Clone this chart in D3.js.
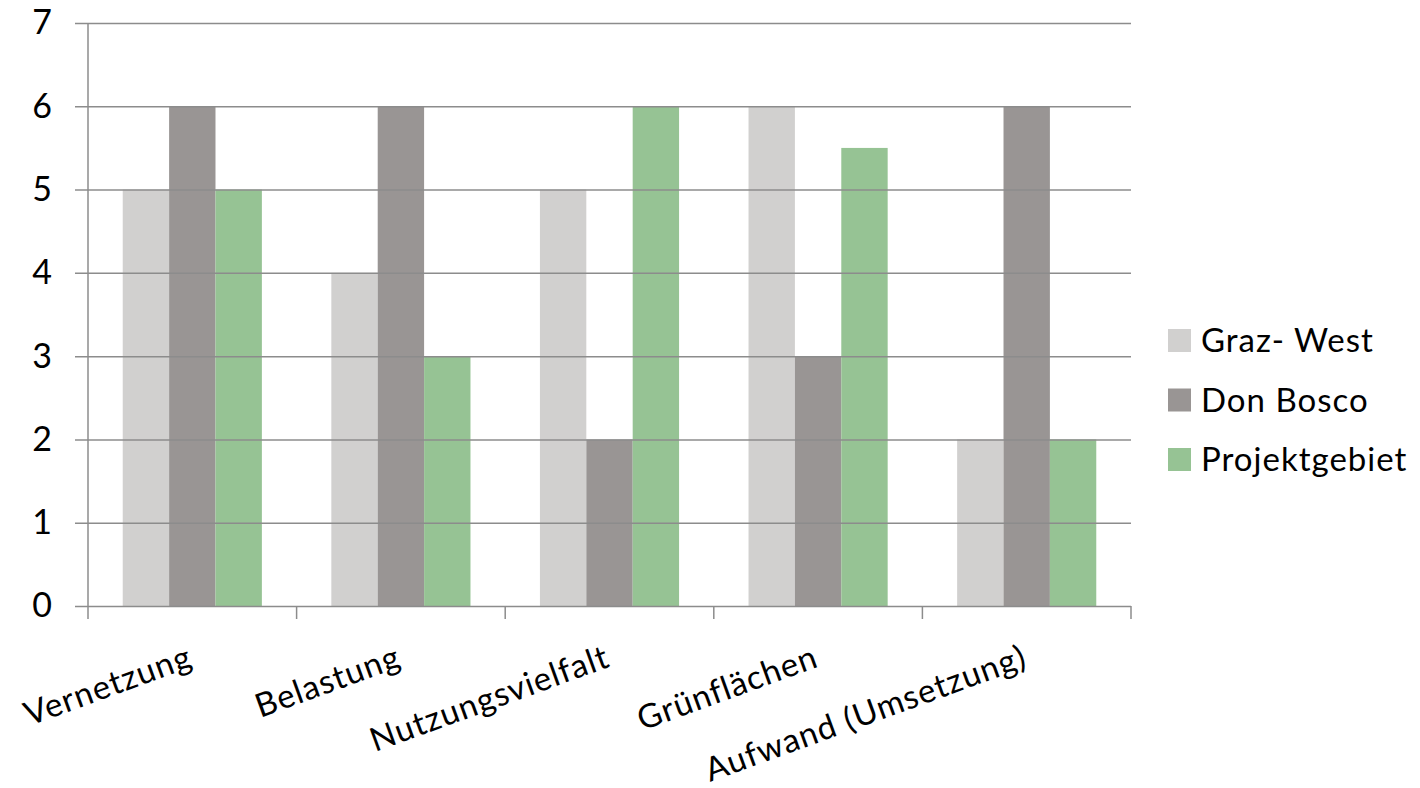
<!DOCTYPE html>
<html>
<head>
<meta charset="utf-8">
<script src="https://cdn.jsdelivr.net/npm/d3@7"></script>
<style>
  body { margin: 0; background: #fff; }
  svg text { font-family: Lato, "Open Sans", sans-serif; fill: #000; }
</style>
</head>
<body>
<div id="chart"></div>
<script>
// chart data
const categories = ["Vernetzung", "Belastung", "Nutzungsvielfalt", "Grünflächen", "Aufwand (Umsetzung)"];
const seriesNames = ["Graz- West", "Don Bosco", "Projektgebiet"];
const grazWest = [5, 4, 5, 6, 2];
const donBosco = [6, 6, 2, 3, 6];
const projektgebiet = [5, 3, 6, 5.5, 2];
const yTicks = [0, 1, 2, 3, 4, 5, 6, 7];
const colors = ["#d1d0cf", "#999594", "#96c394"];

const seriesValues = [grazWest, donBosco, projektgebiet];

const margin = { top: 23, right: 289, bottom: 182, left: 88 };
const totalW = 1420, totalH = 788;
const width = totalW - margin.left - margin.right;
const height = totalH - margin.top - margin.bottom;
const fontSize = 33;
const gridColor = "#8c8c8c";

const svg = d3.select("#chart").append("svg")
    .attr("width", totalW)
    .attr("height", totalH);

const g = svg.append("g")
    .attr("transform", `translate(${margin.left},${margin.top})`);

// scales
const x = d3.scaleBand().domain(categories).range([0, width]).padding(0);
const gap = x.bandwidth() * 0.333;
const xInner = d3.scaleBand().domain(seriesNames).range([gap / 2, x.bandwidth() - gap / 2]).padding(0);
const y = d3.scaleLinear().domain([0, 7]).range([height, 0]);

// bars
const rows = [];
categories.forEach((c, i) => {
    seriesNames.forEach((s, j) => rows.push({ cat: c, series: s, value: seriesValues[j][i], color: colors[j] }));
});

g.selectAll(".bar")
    .data(rows)
    .enter().append("rect")
    .attr("class", "bar")
    .attr("x", d => x(d.cat) + xInner(d.series))
    .attr("y", d => y(d.value))
    .attr("width", xInner.bandwidth())
    .attr("height", d => height - y(d.value))
    .attr("fill", d => d.color);

// horizontal gridlines + y labels (on top of bars)
const yAxis = d3.axisLeft(y)
    .tickValues(yTicks)
    .tickSize(-(width + 13))
    .tickPadding(23)
    .tickFormat(d3.format("d"));

const yAxisG = g.append("g")
    .attr("transform", "translate(-13,0)")
    .call(yAxis);
yAxisG.select(".domain").remove();
yAxisG.selectAll(".tick line").attr("stroke", gridColor).attr("stroke-width", 1.5);
yAxisG.selectAll(".tick text")
    .style("font-size", (fontSize + 1) + "px")
    .style("font-family", "Lato, sans-serif")
    .attr("fill", "#000");

// vertical axis line
g.append("line")
    .attr("x1", 0).attr("x2", 0)
    .attr("y1", y(7)).attr("y2", height + 13)
    .attr("stroke", gridColor).attr("stroke-width", 1.5);

// category boundary ticks
const bounds = categories.map(c => x(c)).concat([x.range()[1]]);
g.selectAll(".xtick")
    .data(bounds.slice(1))
    .enter().append("line")
    .attr("class", "xtick")
    .attr("x1", d => d).attr("x2", d => d)
    .attr("y1", height).attr("y2", height + 13)
    .attr("stroke", gridColor).attr("stroke-width", 1.5);

// rotated category labels
g.selectAll(".xlabel")
    .data(categories)
    .enter().append("text")
    .attr("class", "xlabel")
    .attr("text-anchor", "end")
    .attr("transform", d => `translate(${x(d) + x.bandwidth() / 2 + 2},${height + 60}) rotate(-20)`)
    .style("font-size", fontSize + "px")
    .style("letter-spacing", "1px")
    .text(d => d);

// legend
const legend = svg.append("g")
    .attr("transform", "translate(1168,329)");

const items = legend.selectAll(".legend-item")
    .data(seriesNames)
    .enter().append("g")
    .attr("class", "legend-item")
    .attr("transform", (d, i) => `translate(0,${i * 59.5})`);

items.append("rect")
    .attr("width", 23).attr("height", 23)
    .attr("fill", (d, i) => colors[i]);

items.append("text")
    .attr("x", 33)
    .attr("y", 11.5)
    .attr("dy", "0.36em")
    .style("font-size", fontSize + "px")
    .style("letter-spacing", "1px")
    .text(d => d);
</script>
</body>
</html>
